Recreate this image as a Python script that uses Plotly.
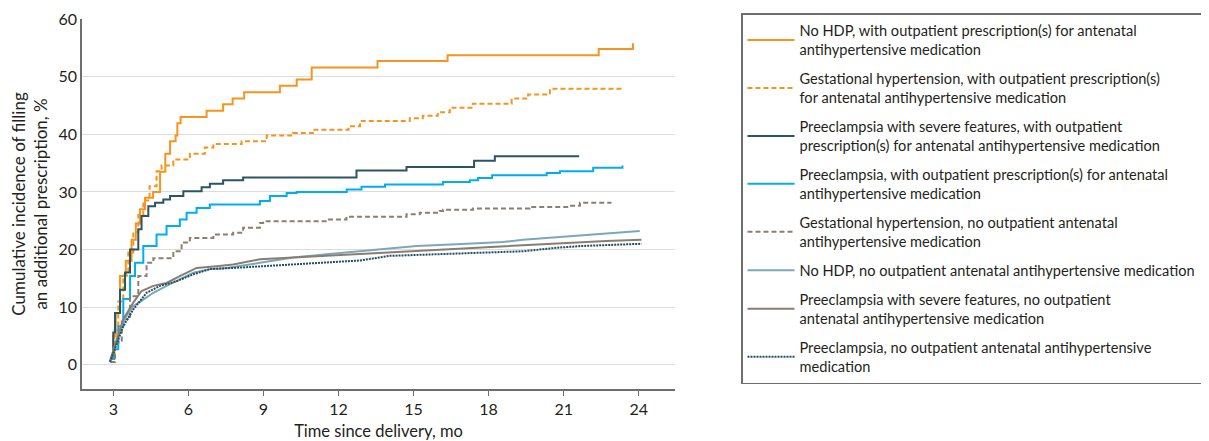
import plotly.graph_objects as go

# ---- data (months since delivery, cumulative incidence %) ----
nohdp_with_x = [2.9, 3.0, 3.1, 3.27, 3.5, 3.73, 3.9, 4.07, 4.27, 4.59, 4.87, 5.08, 5.27, 5.49, 5.56, 5.69,
                6.73, 7.39, 7.77, 8.23, 9.66, 10.33, 10.93, 13.56, 16.36, 22.4, 23.77]
nohdp_with_y = [1, 5, 9, 15.4, 18, 21.7, 24.5, 27, 29, 30, 33.5, 36.6, 38.8, 39.8, 41.9, 43.0,
                44.1, 45.2, 46.2, 47.3, 48.4, 49.5, 51.6, 52.7, 53.7, 54.8, 55.8]

gh_with_x = [2.9, 3.05, 3.2, 3.4, 3.6, 3.8, 4.0, 4.2, 4.45, 4.73, 4.93, 5.40, 6.06, 6.66, 7.0, 8.13,
             9.13, 10.18, 10.98, 12.4, 12.86, 14.85, 15.37, 15.97, 16.45, 17.37, 18.92, 19.58, 20.45, 23.38]
gh_with_y = [1, 6, 11, 15.5, 19.5, 23, 26, 28.5, 31, 33.6, 34.6, 35.6, 36.6, 37.7, 38.3, 38.8,
             39.8, 40.2, 40.8, 41.4, 42.3, 42.8, 43.2, 43.8, 44.6, 45.3, 46.2, 46.9, 47.9, 47.9]

pes_with_x = [2.9, 3.0, 3.07, 3.27, 3.47, 3.67, 4.0, 4.13, 4.4, 4.67, 5.0, 5.27, 5.8, 6.53, 6.86, 7.39,
              8.19, 12.72, 14.72, 17.42, 18.25, 21.62]
pes_with_y = [1, 5.6, 9, 13, 16, 20, 23.5, 25.8, 27.5, 28.1, 28.7, 29.3, 30.1, 30.8, 31.4, 32.0,
              32.5, 33.7, 34.3, 35.4, 36.2, 36.2]

pe_with_x = [2.9, 3.0, 3.2, 3.4, 3.67, 3.87, 4.2, 4.73, 5.13, 5.66, 5.93, 6.33, 6.86, 8.86, 9.26, 9.93,
             10.33, 12.33, 12.92, 13.86, 16.18, 17.25, 17.58, 18.14, 20.32, 20.85, 22.18, 23.35]
pe_with_y = [1, 2.7, 6.7, 11.4, 15.4, 17.7, 20.6, 22.6, 24.1, 25.2, 26.4, 27.2, 27.8, 28.4, 29.3, 29.8,
             30.0, 30.4, 30.9, 31.3, 31.7, 32.0, 32.4, 32.9, 33.3, 33.6, 34.2, 34.6]

gh_no_x = [2.88, 3.07, 3.34, 3.67, 4.0, 4.33, 4.6, 5.4, 5.73, 6.06, 7.0, 7.79, 8.19, 8.86, 8.99, 11.53,
           12.32, 14.72, 15.25, 16.05, 16.18, 17.38, 19.65, 21.25, 21.65, 22.91]
gh_no_y = [0.5, 3.9, 7.9, 11.9, 15.4, 17.7, 18.5, 19.7, 21.2, 22.0, 22.6, 22.9, 23.8, 24.6, 24.9, 25.2,
           25.7, 26.1, 26.4, 26.7, 26.9, 27.1, 27.4, 27.6, 28.1, 28.1]

nohdp_no_x = [2.87, 3.07, 3.27, 3.53, 3.8, 4.13, 4.6, 5.13, 5.66, 6.2, 6.86, 7.53, 8.86, 10.19, 11.53,
              12.86, 13.39, 15.12, 16.72, 18.58, 19.38, 21.38, 24.04]
nohdp_no_y = [0.7, 3.3, 6.2, 8.5, 10.2, 11.1, 12.5, 13.7, 14.8, 16.0, 16.6, 16.8, 17.7, 18.6, 19.2,
              19.7, 20.0, 20.6, 20.9, 21.3, 21.7, 22.3, 23.2]

pes_no_x = [2.87, 3.14, 3.4, 3.8, 4.13, 4.6, 5.13, 5.66, 6.33, 7.13, 7.79, 8.86, 10.19, 11.53, 12.86,
            14.72, 17.38, 20.05, 22.71, 24.11]
pes_no_y = [0.5, 4.4, 7.9, 10.8, 12.8, 13.7, 14.2, 15.4, 16.8, 17.1, 17.4, 18.3, 18.6, 19.0, 19.2,
            19.7, 20.3, 20.9, 21.5, 21.7]

pe_no_x = [2.87, 3.14, 3.4, 3.8, 4.33, 4.87, 5.53, 6.2, 6.86, 7.79, 8.86, 10.19, 11.53, 12.86, 14.05,
           15.39, 18.05, 19.38, 20.71, 21.65, 24.11]
pe_no_y = [0.5, 3.8, 6.7, 9.6, 12.5, 13.7, 14.5, 15.7, 16.6, 16.8, 17.1, 17.4, 17.8, 18.1, 18.9,
           19.1, 19.4, 19.7, 20.3, 20.6, 21.0]

x_ticks = [3, 6, 9, 12, 15, 18, 21, 24]
y_ticks = [0, 10, 20, 30, 40, 50, 60]

names = [
    "No HDP, with outpatient prescription(s) for antenatal<br>antihypertensive medication",
    "Gestational hypertension, with outpatient prescription(s)<br>for antenatal antihypertensive medication",
    "Preeclampsia with severe features, with outpatient<br>prescription(s) for antenatal antihypertensive medication",
    "Preeclampsia, with outpatient prescription(s) for antenatal<br>antihypertensive medication",
    "Gestational hypertension, no outpatient antenatal<br>antihypertensive medication",
    "No HDP, no outpatient antenatal antihypertensive medication",
    "Preeclampsia with severe features, no outpatient<br>antenatal antihypertensive medication",
    "Preeclampsia, no outpatient antenatal antihypertensive<br>medication",
]

series = [
    (nohdp_with_x, nohdp_with_y, "#F7941D", "solid", "hv"),
    (gh_with_x, gh_with_y, "#F7941D", "5px,3px", "hv"),
    (pes_with_x, pes_with_y, "#2B5563", "solid", "hv"),
    (pe_with_x, pe_with_y, "#00AEEF", "solid", "hv"),
    (gh_no_x, gh_no_y, "#8C7F72", "5px,3px", "hv"),
    (nohdp_no_x, nohdp_no_y, "#7BA7BC", "solid", "linear"),
    (pes_no_x, pes_no_y, "#8A7D70", "solid", "linear"),
    (pe_no_x, pe_no_y, "#1F4E66", "2px,1px", "linear"),
]

fig = go.Figure()
for i, ((xs, ys, col, dash, shape), nm) in enumerate(zip(series, names)):
    fig.add_trace(go.Scatter(
        x=xs, y=ys, mode="lines", name=nm, legendgroup=f"g{i}",
        line=dict(color=col, width=2, dash=dash, shape=shape),
    ))

# page body has an 8px margin, so the figure is 16px smaller than the window
W, H = 1201, 433
font_family = "Lato, 'Open Sans', sans-serif"
fig.update_layout(
    width=W, height=H,
    margin=dict(l=74, r=534, t=11, b=52, autoexpand=False),
    paper_bgcolor="white", plot_bgcolor="white",
    font=dict(family=font_family, size=15, color="#231f20"),
    showlegend=True,
    legend=dict(
        xref="container", yref="container",
        x=733 / W, y=1 - 5 / H, xanchor="left", yanchor="top",
        bordercolor="#6d6e71", borderwidth=1.5,
        font=dict(family=font_family, size=14.6, color="#231f20"),
        itemwidth=47, tracegroupgap=7, traceorder="grouped",
        bgcolor="white",
    ),
    xaxis=dict(
        range=[1.75, 25.45], tickvals=x_ticks, ticktext=[str(v) for v in x_ticks],
        showgrid=False, zeroline=False, showline=True, linecolor="#6d6e71", linewidth=1.5,
        ticks="outside", ticklen=5, tickcolor="#6d6e71", automargin=False,
        tickfont=dict(size=16),
        title=dict(text="Time since delivery, mo", font=dict(size=16.5), standoff=8),
    ),
    yaxis=dict(
        range=[-4.2, 60], tickvals=y_ticks, ticktext=[str(v) for v in y_ticks],
        showgrid=True, gridcolor="#dcdcdc", gridwidth=1, zeroline=False,
        showline=True, linecolor="#6d6e71", linewidth=1.5, automargin=False,
        ticks="", tickfont=dict(size=16),
        title=dict(text="Cumulative incidence of filling<br>an additional prescription, %",
                   font=dict(size=17), standoff=8),
    ),
)

try:
    fig.update_layout(legend_maxheight=420)
except Exception:
    pass

fig.write_html("out.html")
